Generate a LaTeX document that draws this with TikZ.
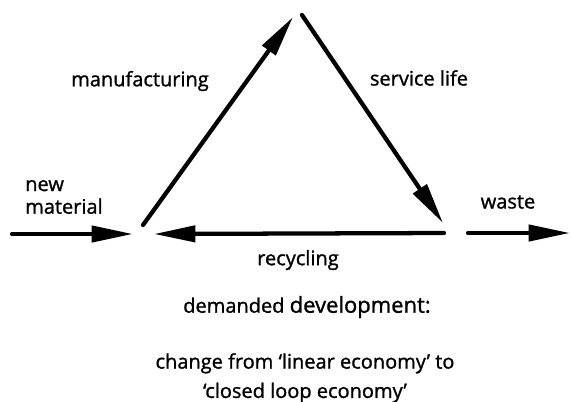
\documentclass[tikz,border=0pt]{standalone}
\usepackage{fontspec}
\setmainfont[FakeBold=1.2]{Open Sans}
\usetikzlibrary{arrows.meta}

\begin{document}
\begin{tikzpicture}[x=0.75pt,y=-0.75pt]
		% Styles
		\tikzset{
			flow/.style={line width=3.2pt, line cap=round, -{Triangle[length=31pt,width=12pt]}},
			lbl/.style={font=\fontsize{15}{17}\selectfont, inner sep=0pt},
			note/.style={font=\fontsize{15}{21}\selectfont, inner sep=0pt, align=center}
		}

		% Page frame
		\useasboundingbox (0,0) rectangle (571,401);

		% End points of the loop
		\coordinate (inS) at (12,234);
		\coordinate (inE) at (133,234);
		\coordinate (manS) at (143,225);
		\coordinate (manE) at (293,17);
		\coordinate (serS) at (302,15);
		\coordinate (serE) at (443,223);
		\coordinate (recS) at (444,233);
		\coordinate (recE) at (154,234);
		\coordinate (wasS) at (468,233);
		\coordinate (wasE) at (570,233);

		% Arrows
		\draw[flow] (inS) -- (inE);
		\draw[flow] (manS) -- (manE);
		\draw[flow] (serS) -- (serE);
		\draw[flow] (recS) -- (recE);
		\draw[flow] (wasS) -- (wasE);

		% Labels
		\node[lbl] (manLbl) at (140,81) {manufacturing};
		\node[lbl] (serLbl) at (419,78) {service life};
		\node[lbl, align=left, anchor=west] (newLbl) at (25,197) {new\\material};
		\node[lbl] (wasLbl) at (508,202) {waste};
		\node[lbl] (recLbl) at (298,260) {recycling};

		% Caption
		\node[note] (dem) at (307,307) {demanded {\fontsize{16.5}{21}\selectfont development:}};
		\node[note] (chg) at (305,378) {change from ‘linear economy’ to\\[1pt]‘closed loop economy’};

	\end{tikzpicture}
\end{document}
